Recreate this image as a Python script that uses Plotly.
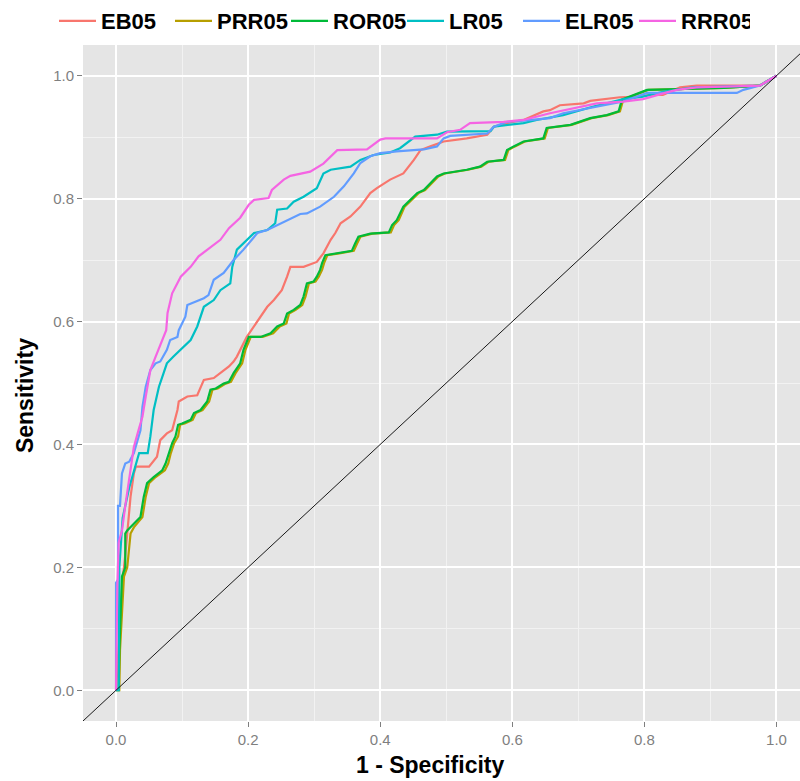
import plotly.graph_objects as go

series_names = ["EB05", "PRR05", "ROR05", "LR05", "ELR05", "RRR05"]
series_colors = ["#F8766D", "#B79F00", "#00BA38", "#00BFC4", "#619CFF", "#F564E3"]

eb05_fpr = [0, 0.006, 0.010, 0.014, 0.017, 0.022, 0.027, 0.030, 0.050, 0.062, 0.067, 0.077, 0.085, 0.093, 0.095, 0.108, 0.123, 0.128, 0.133, 0.148, 0.158, 0.171, 0.178, 0.183, 0.198, 0.209, 0.219, 0.229, 0.239, 0.251, 0.259, 0.264, 0.284, 0.304, 0.314, 0.325, 0.332, 0.340, 0.355, 0.370, 0.385, 0.395, 0.415, 0.435, 0.451, 0.461, 0.476, 0.496, 0.531, 0.562, 0.572, 0.592, 0.617, 0.647, 0.657, 0.672, 0.708, 0.718, 0.763, 0.793, 0.809, 0.828, 0.854, 0.879, 0.975, 1.0]
eb05_tpr = [0, 0.10, 0.18, 0.22, 0.26, 0.315, 0.353, 0.364, 0.364, 0.380, 0.407, 0.418, 0.423, 0.456, 0.470, 0.478, 0.480, 0.494, 0.505, 0.508, 0.516, 0.527, 0.535, 0.543, 0.575, 0.592, 0.608, 0.624, 0.635, 0.651, 0.673, 0.689, 0.689, 0.697, 0.711, 0.733, 0.744, 0.760, 0.771, 0.787, 0.809, 0.817, 0.831, 0.841, 0.863, 0.879, 0.885, 0.893, 0.898, 0.904, 0.917, 0.923, 0.928, 0.942, 0.944, 0.952, 0.955, 0.959, 0.965, 0.966, 0.969, 0.969, 0.981, 0.984, 0.984, 1.0]

prr05_fpr = [0, 0.005, 0.006, 0.009, 0.012, 0.017, 0.022, 0.027, 0.032, 0.040, 0.045, 0.050, 0.060, 0.068, 0.074, 0.079, 0.083, 0.088, 0.094, 0.097, 0.104, 0.116, 0.121, 0.131, 0.141, 0.146, 0.154, 0.166, 0.174, 0.181, 0.191, 0.196, 0.204, 0.222, 0.238, 0.248, 0.258, 0.262, 0.272, 0.282, 0.287, 0.292, 0.302, 0.307, 0.312, 0.315, 0.320, 0.338, 0.360, 0.365, 0.370, 0.388, 0.416, 0.421, 0.428, 0.437, 0.448, 0.458, 0.468, 0.478, 0.488, 0.498, 0.533, 0.553, 0.564, 0.589, 0.594, 0.604, 0.619, 0.649, 0.654, 0.690, 0.720, 0.745, 0.763, 0.768, 0.775, 0.795, 0.806, 0.920, 0.975, 1.0]
prr05_tpr = [0, 0.0, 0.065, 0.13, 0.185, 0.20, 0.255, 0.265, 0.271, 0.282, 0.315, 0.337, 0.347, 0.353, 0.358, 0.369, 0.386, 0.402, 0.413, 0.432, 0.434, 0.440, 0.451, 0.456, 0.470, 0.489, 0.491, 0.499, 0.502, 0.516, 0.532, 0.554, 0.575, 0.575, 0.581, 0.592, 0.597, 0.613, 0.619, 0.627, 0.641, 0.662, 0.665, 0.673, 0.684, 0.695, 0.708, 0.711, 0.715, 0.727, 0.738, 0.743, 0.745, 0.757, 0.765, 0.787, 0.798, 0.809, 0.814, 0.825, 0.836, 0.841, 0.847, 0.852, 0.860, 0.863, 0.879, 0.885, 0.893, 0.898, 0.915, 0.920, 0.931, 0.936, 0.942, 0.961, 0.964, 0.972, 0.977, 0.980, 0.984, 1.0]

ror05_fpr = [0, 0.004, 0.005, 0.007, 0.009, 0.014, 0.014, 0.017, 0.027, 0.037, 0.042, 0.047, 0.057, 0.065, 0.070, 0.075, 0.080, 0.085, 0.090, 0.094, 0.100, 0.113, 0.118, 0.128, 0.138, 0.143, 0.151, 0.163, 0.171, 0.178, 0.188, 0.193, 0.201, 0.219, 0.234, 0.244, 0.254, 0.259, 0.269, 0.279, 0.284, 0.289, 0.299, 0.304, 0.309, 0.312, 0.317, 0.335, 0.357, 0.362, 0.367, 0.385, 0.413, 0.418, 0.425, 0.435, 0.446, 0.456, 0.466, 0.476, 0.486, 0.496, 0.531, 0.551, 0.562, 0.587, 0.592, 0.602, 0.617, 0.647, 0.652, 0.688, 0.718, 0.743, 0.761, 0.766, 0.773, 0.793, 0.804, 0.920, 0.975, 1.0]
ror05_tpr = [0, 0.0, 0.065, 0.13, 0.185, 0.20, 0.255, 0.26, 0.271, 0.282, 0.315, 0.337, 0.347, 0.353, 0.358, 0.369, 0.386, 0.402, 0.413, 0.432, 0.434, 0.440, 0.451, 0.456, 0.470, 0.489, 0.491, 0.499, 0.502, 0.516, 0.532, 0.554, 0.575, 0.575, 0.581, 0.592, 0.597, 0.613, 0.619, 0.627, 0.641, 0.662, 0.665, 0.673, 0.684, 0.695, 0.708, 0.711, 0.715, 0.727, 0.738, 0.743, 0.745, 0.757, 0.765, 0.787, 0.798, 0.809, 0.814, 0.825, 0.836, 0.841, 0.847, 0.852, 0.860, 0.863, 0.879, 0.885, 0.893, 0.898, 0.915, 0.920, 0.931, 0.936, 0.942, 0.961, 0.964, 0.972, 0.977, 0.980, 0.984, 1.0]

lr05_fpr = [0, 0.004, 0.005, 0.010, 0.020, 0.030, 0.035, 0.048, 0.052, 0.057, 0.065, 0.072, 0.077, 0.087, 0.098, 0.108, 0.113, 0.123, 0.128, 0.133, 0.148, 0.158, 0.173, 0.176, 0.183, 0.198, 0.209, 0.229, 0.241, 0.244, 0.259, 0.269, 0.284, 0.304, 0.314, 0.325, 0.355, 0.370, 0.390, 0.415, 0.430, 0.453, 0.486, 0.501, 0.567, 0.572, 0.617, 0.637, 0.677, 0.723, 0.768, 0.798, 0.828, 0.874, 0.975, 1.0]
lr05_tpr = [0, 0.0, 0.20, 0.28, 0.33, 0.37, 0.386, 0.386, 0.413, 0.456, 0.494, 0.516, 0.532, 0.543, 0.554, 0.565, 0.570, 0.592, 0.608, 0.624, 0.635, 0.651, 0.662, 0.689, 0.717, 0.733, 0.744, 0.749, 0.760, 0.782, 0.784, 0.795, 0.803, 0.817, 0.841, 0.847, 0.852, 0.863, 0.871, 0.875, 0.882, 0.901, 0.904, 0.909, 0.910, 0.917, 0.923, 0.928, 0.936, 0.950, 0.962, 0.966, 0.974, 0.981, 0.984, 1.0]

elr05_fpr = [0, 0.0, 0.003, 0.003, 0.006, 0.009, 0.014, 0.020, 0.027, 0.037, 0.040, 0.045, 0.052, 0.060, 0.067, 0.077, 0.082, 0.093, 0.095, 0.105, 0.108, 0.120, 0.133, 0.140, 0.148, 0.163, 0.178, 0.193, 0.203, 0.214, 0.229, 0.244, 0.259, 0.279, 0.289, 0.309, 0.330, 0.345, 0.360, 0.370, 0.385, 0.400, 0.425, 0.466, 0.486, 0.496, 0.506, 0.562, 0.572, 0.592, 0.617, 0.657, 0.677, 0.728, 0.768, 0.804, 0.940, 0.950, 0.960, 0.975, 1.0]
elr05_tpr = [0, 0.175, 0.18, 0.30, 0.30, 0.353, 0.369, 0.372, 0.386, 0.423, 0.461, 0.494, 0.521, 0.532, 0.535, 0.554, 0.570, 0.575, 0.586, 0.608, 0.627, 0.632, 0.638, 0.643, 0.668, 0.679, 0.700, 0.717, 0.730, 0.744, 0.749, 0.757, 0.765, 0.775, 0.776, 0.787, 0.803, 0.820, 0.841, 0.858, 0.869, 0.874, 0.877, 0.880, 0.885, 0.898, 0.902, 0.906, 0.917, 0.925, 0.927, 0.931, 0.939, 0.950, 0.958, 0.972, 0.972, 0.977, 0.980, 0.984, 1.0]

rrr05_fpr = [0, 0.002, 0.004, 0.009, 0.014, 0.018, 0.022, 0.027, 0.034, 0.040, 0.045, 0.052, 0.060, 0.070, 0.076, 0.078, 0.085, 0.098, 0.113, 0.125, 0.138, 0.158, 0.171, 0.188, 0.201, 0.209, 0.231, 0.236, 0.254, 0.264, 0.294, 0.314, 0.335, 0.380, 0.400, 0.408, 0.486, 0.501, 0.521, 0.536, 0.587, 0.617, 0.657, 0.728, 0.768, 0.798, 0.834, 0.849, 0.879, 0.975, 1.0]
rrr05_tpr = [0, 0.17, 0.24, 0.26, 0.30, 0.33, 0.353, 0.396, 0.423, 0.445, 0.478, 0.521, 0.543, 0.570, 0.586, 0.614, 0.646, 0.673, 0.689, 0.706, 0.717, 0.733, 0.752, 0.769, 0.790, 0.798, 0.801, 0.814, 0.831, 0.837, 0.844, 0.857, 0.879, 0.880, 0.896, 0.898, 0.898, 0.908, 0.912, 0.923, 0.925, 0.928, 0.939, 0.955, 0.958, 0.962, 0.973, 0.977, 0.981, 0.984, 1.0]

diag_x = [-0.1, 1.1]
diag_y = [-0.1, 1.1]

tick_vals = [0.0, 0.2, 0.4, 0.6, 0.8, 1.0]
tick_text = ["0.0", "0.2", "0.4", "0.6", "0.8", "1.0"]

x_title = "1 - Specificity"
y_title = "Sensitivity"

all_fpr = [eb05_fpr, prr05_fpr, ror05_fpr, lr05_fpr, elr05_fpr, rrr05_fpr]
all_tpr = [eb05_tpr, prr05_tpr, ror05_tpr, lr05_tpr, elr05_tpr, rrr05_tpr]

fig = go.Figure()
for name, color, xs, ys in zip(series_names, series_colors, all_fpr, all_tpr):
    fig.add_trace(go.Scatter(x=xs, y=ys, mode="lines", name=name,
                             line=dict(color=color, width=2.2)))

fig.add_trace(go.Scatter(x=diag_x, y=diag_y, mode="lines", showlegend=False,
                         line=dict(color="black", width=0.9), hoverinfo="skip"))

font_family = "Liberation Sans, Arial, sans-serif"
axis_common = dict(
    tickvals=tick_vals, ticktext=tick_text,
    showgrid=True, gridcolor="white", gridwidth=1.6,
    zeroline=False, showline=False,
    ticks="outside", ticklen=5, tickwidth=1, tickcolor="#7F7F7F",
    tickfont=dict(family=font_family, size=15, color="#7F7F7F"),
    minor=dict(dtick=0.1, tick0=0.1, showgrid=True, gridcolor="#F2F2F2", gridwidth=0.8, ticks=""),
)

title_font = dict(family=font_family, size=23, color="black", weight="bold")
legend_font = dict(family=font_family, size=22, color="black", weight="bold")

fig.update_layout(
    width=800, height=781,
    margin=dict(l=83, r=0, t=45, b=60),
    paper_bgcolor="white",
    plot_bgcolor="#E5E5E5",
    xaxis=dict(range=[-0.05, 1.0356], **axis_common),
    yaxis=dict(range=[-0.05, 1.05], **axis_common),
    legend=dict(orientation="h", xref="container", yref="container",
                x=0.0675, y=1.0, xanchor="left", yanchor="top",
                font=legend_font, entrywidth=64, entrywidthmode="pixels",
                bgcolor="rgba(0,0,0,0)", itemwidth=37, tracegroupgap=0),
    showlegend=True,
    annotations=[
        dict(text=x_title, xref="paper", yref="paper", x=0.484, y=-0.065,
             xanchor="center", yanchor="middle", showarrow=False, font=title_font),
        dict(text=y_title, xref="paper", yref="paper", x=-0.081, y=0.482,
             xanchor="center", yanchor="middle", showarrow=False, textangle=-90,
             font=title_font),
    ],
)

fig.write_html("out.html", config={"displayModeBar": False},
               post_script="document.body.style.margin='0px';")
